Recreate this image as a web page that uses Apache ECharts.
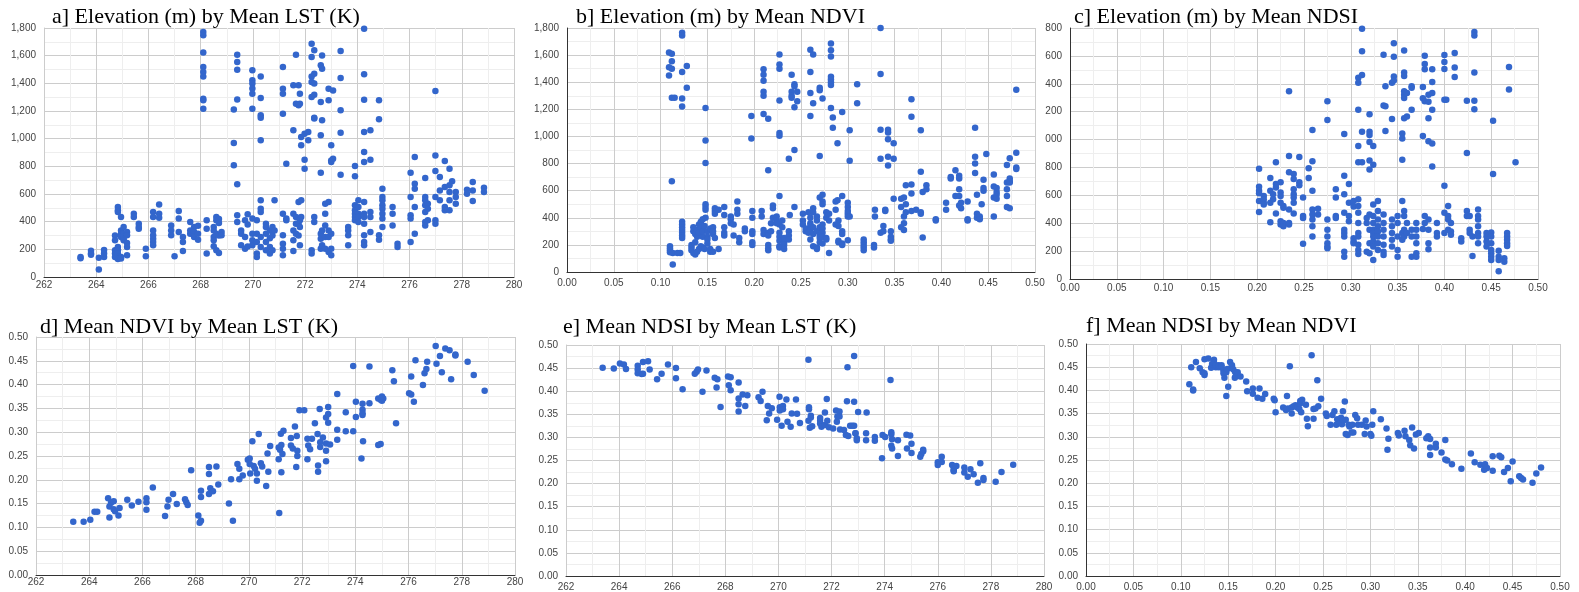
<!DOCTYPE html>
<html>
<head>
<meta charset="UTF-8">
<title>Scatter panels</title>
<script src="https://cdn.jsdelivr.net/npm/echarts@6/dist/echarts.min.js"></script>
<style>
  html, body { margin: 0; padding: 0; background: #fff; }
  #main { width: 1579px; height: 592px; }
</style>
</head>
<body>
<div id="main"></div>
<script>
// panel titles
var titles = [
  'a] Elevation (m) by Mean LST (K)',
  'b] Elevation (m) by Mean NDVI',
  'c] Elevation (m) by Mean NDSI',
  'd] Mean NDVI by Mean LST (K)',
  'e] Mean NDSI by Mean LST (K)',
  'f] Mean NDSI by Mean NDVI'
];

// data grouped as [x, [y, y, ...]]
var elevByLst = [
  [263.4,[145,135]], [263.8,[190,170,160]], [264.1,[55,140]], [264.3,[145,170,195]],
  [264.72,[300,265,193,169,145]], [264.83,[506,482,470,217,193,169,145,130]],
  [264.95,[434,337,313,289,145,133]], [265.05,[361,313,277,265]], [265.18,[325,301,246,217,157]],
  [265.44,[458,434]], [265.63,[385,361,349]], [265.9,[205,150]],
  [266.18,[470,434,337,301,277,253,229]], [266.41,[525,458,429]], [266.87,[373,337,301]],
  [267.0,[150]], [267.16,[477,422,325]], [267.32,[289,253,188]], [267.6,[398,337,313]],
  [267.75,[361,325,290]], [267.9,[370,313,270]],
  [268.1,[1771,1747,1622,1518,1482,1450,1289,1277,1217]], [268.23,[410,349,169]],
  [268.5,[361,337,289,265,222]], [268.6,[434,410,313,193]], [268.7,[420,390,300,173]],
  [268.8,[325,301]], [269.27,[1210,969,807]], [269.4,[1607,1554,1499,1284,670,446,398]],
  [269.55,[337,313,229]], [269.7,[410,290,205]], [269.8,[453,380,220]],
  [269.98,[1494,1422,1398,1362,1325,1217,422,313,265,229]], [270.15,[410,313,253,169,145]],
  [270.3,[1450,1294,1169,1152,988,554,494,470,289,217]], [270.5,[385,361,313,253,193]],
  [270.65,[337,280,217,169]], [270.75,[361,300,193]], [270.83,[554,337]],
  [271.15,[1518,1361,1325,1180,458,301,241,205,157]], [271.28,[819,422,410]],
  [271.55,[1386,1060,458,337,265,188]], [271.65,[1607,1253,434,385,313]],
  [271.75,[1386,1241,542,385,300]], [271.8,[1325,1253,410,361,229]], [271.85,[1012,952,554,434]],
  [271.98,[1036,848,783]], [272.12,[1048,988]], [272.25,[1687,1590,1450,1410,1301,193,169]],
  [272.35,[1639,1470,1398,1318,1152,1145,434,398]], [272.6,[1530,1265,1024,754,313,277,205]],
  [272.65,[1602,1506,1133,337,229]], [272.77,[530,458,373,289,205]],
  [272.9,[1361,1277,542,337,289,181]], [273.0,[952,843,831,313,205,157]], [273.07,[1349,855]],
  [273.36,[1634,1439,1205,1043,740]], [273.65,[361,337,301,229]],
  [273.91,[802,728,518,482,458,434,410]], [274.04,[554,506,458,434,398]],
  [274.26,[1795,1465,1282,1048,904,831,542,458,434,385,301,253,229]],
  [274.5,[1060,848,470,434,325]], [274.83,[1277,1140,301,270]],
  [274.96,[638,578,554,518,494,458,422,361]], [275.35,[506,458,373]], [275.54,[241,217]],
  [276.04,[754,578,446,422,253]], [276.2,[867,675,638,506,313]],
  [276.6,[716,578,554,518,470,398,373]], [276.7,[530,494,410]],
  [276.99,[1345,879,766,578,410,385]], [277.16,[723,626,554]], [277.35,[839,650,506,482]],
  [277.53,[783,663,614,554,482]], [277.63,[692]], [277.77,[614,578,530]], [278.2,[631,602]],
  [278.42,[687,626,549]], [278.85,[646,614]]
];

var elevByNdvi = [
  [0.109,[1620,1510,1450]], [0.112,[1610,1555,1500,1285,670]], [0.115,[1285]],
  [0.110,[190,175,160,145]], [0.113,[140,55]], [0.118,[140]], [0.121,[140]],
  [0.123,[1765,1745,1475,1280,1220,370,350,330,310,290,270,250]], [0.128,[1520,1360]],
  [0.133,[200,180,160]], [0.135,[140,300,330]], [0.137,[130,280,220]], [0.139,[150,260,310]],
  [0.141,[170,290,350]], [0.143,[370,190,330]], [0.145,[390,180,260,300]], [0.147,[170,340]],
  [0.148,[1210,970,805,500,480,460,400]], [0.150,[300,260,240,210]], [0.153,[150,170,320]],
  [0.156,[150,280,330,300]], [0.158,[470,450,430,250]], [0.162,[170,460]],
  [0.168,[480,420,330,290,270]], [0.175,[410,390,360]], [0.178,[350,270]], [0.182,[520,460,430]],
  [0.184,[250,220]], [0.190,[320,300]], [0.197,[1150,985]], [0.198,[450,400,300,280,220,200]],
  [0.208,[450,410]], [0.210,[1495,1455,1410,1330,1300,1165,310,280]],
  [0.215,[1130,750,200,175,160,290,270]], [0.218,[360,300]], [0.220,[490,470,400]],
  [0.224,[410,380,360]], [0.227,[1605,1530,1500,1265,1025,1005,560,350,290,260,230,190,180]],
  [0.230,[380,330]], [0.232,[170,200,220,250]], [0.237,[835,300,270,240]], [0.238,[420]],
  [0.240,[1455,1330,1300,1285]], [0.243,[1385,1370,1215,900,480]], [0.246,[1330,1260]],
  [0.252,[430,380,350]], [0.255,[320,300]], [0.258,[440,290]],
  [0.260,[1640,1475,1320,1150,400,360,340,310,240]], [0.263,[1605,1245,470,440,330,280,190]],
  [0.267,[410,380,300,180,170]], [0.270,[1340,1360,855,550,330,270,250,220]],
  [0.273,[1280,570,520,500,350,320,290,260,210]], [0.277,[440,400,250,240]], [0.280,[430,380,140]],
  [0.282,[1685,1635,1590,1440,1420,1400,1380,1210]], [0.284,[1140,1065]], [0.287,[520,460,350]],
  [0.289,[950,530]], [0.290,[380,340,230,220]], [0.294,[1180,560,300,280,210,200]],
  [0.300,[510,480,450,430,410,235]], [0.302,[1045,820,410]], [0.310,[1385,1245]],
  [0.317,[240,220,200,180,160]], [0.328,[200,180]], [0.329,[460,410]],
  [0.335,[1800,1460,1050,835,290]], [0.338,[340,300]], [0.340,[460,450]],
  [0.343,[1050,1030,980,850,785]], [0.346,[300,260,240,230]], [0.349,[950,835,540]],
  [0.357,[540,480,330]], [0.360,[550,410,360,310]], [0.362,[640,500,440]],
  [0.368,[1275,1145,645,580,450]], [0.373,[460]], [0.378,[1045,740,440,430]], [0.380,[590,255]],
  [0.384,[640,610]], [0.394,[390,380]], [0.405,[510,460]], [0.410,[700,690]], [0.415,[750,560]],
  [0.419,[710,690,610,560,490]], [0.421,[510,470]], [0.428,[520,390,380]],
  [0.436,[1065,850,800,730]], [0.438,[570,430,400]], [0.441,[410,390]], [0.443,[500]],
  [0.445,[680,620,600]], [0.448,[870]], [0.456,[720,630,550,410]], [0.459,[620,590,570,540]],
  [0.470,[790,660,610,560,480]], [0.473,[840,690,670,660,470]], [0.480,[1345,880,770,760]]
];

var elevByNdsi = [
  [0.202,[790,661,632,615,560,480]], [0.207,[596,572,547,535]], [0.214,[724,632,547,407]],
  [0.217,[608,572]], [0.220,[838,681,656,470]], [0.225,[693,620,596,547,414,390]],
  [0.228,[523,511,402,378]], [0.234,[1347,882,765,499,402,390]],
  [0.239,[753,717,644,608,584,547,470]], [0.245,[875,693,673]], [0.249,[584,451,438,252]],
  [0.255,[795,724]], [0.259,[1068,845,632,499,463,426,378,305]], [0.265,[504,463]],
  [0.275,[1274,1141,426,354,305,257,233,220]], [0.284,[644,584,451,438]],
  [0.293,[1039,741,608,475,354,329,305,196,160]], [0.298,[681,547,451,414]],
  [0.303,[293,269,257,560,520]], [0.308,[1444,1407,1214,954,838,572,523,475,402,329,305,245,208,179]],
  [0.312,[1795,1633,1463,1056,838]], [0.317,[438,402,196]],
  [0.320,[1182,1056,1032,983,850,785,463,354,257,184]],
  [0.324,[954,819,535,451,402,354,329,305,269,233,136]],
  [0.329,[560,487,426,378,341,305,257,208]],
  [0.335,[1608,1245,463,402,354,305,245,196,172]], [0.337,[1383,1238,1061]],
  [0.344,[1407,1148,426,378,329,281,233]], [0.346,[1691,1594,1453,1424]],
  [0.350,[451,402,305,208,160]], [0.355,[1044,1008,855,560,329,281]],
  [0.357,[1638,1480,1456,1347,1322,1298,1153,487,451,354,305]], [0.360,[1334,1165,402,329]],
  [0.365,[1383,1371,1214,354,305,160]], [0.370,[402,354,305,257,184,160]],
  [0.377,[1376,1296,1025,359]], [0.379,[1601,1541,1504,1274,451,402]],
  [0.383,[1322,1272,1153,988,426,354,257,213]], [0.387,[1504,1412,1334,1214,971,807]],
  [0.392,[402,329,305]], [0.400,[1606,1557,1506,1286,669,475,329]], [0.402,[1286]],
  [0.404,[523,451,426,354]], [0.407,[402,341,317]], [0.411,[1621,1516,1449]],
  [0.418,[293,269]], [0.424,[1279,904,487,451]], [0.427,[451,354,329]], [0.430,[305,165]],
  [0.432,[1771,1747,1480,1279,1218]], [0.436,[499,451,426,378,329,305,257]],
  [0.445,[329,305,269,233]], [0.450,[334,305,257,208,184,160,136]], [0.452,[1134,753]],
  [0.458,[203,160,136,56]], [0.464,[148,123]], [0.467,[329,305,281,257,237]],
  [0.469,[1521,1359]], [0.476,[838]]
];

var ndviByLst = [
  [263.40,[0.112]], [263.79,[0.112]], [264.04,[0.116]], [264.2,[0.133]], [264.3,[0.133]],
  [264.71,[0.161]], [264.76,[0.144,0.121]], [264.82,[0.152]], [264.92,[0.155,0.138]], [264.97,[0.134]],
  [265.1,[0.125]], [265.14,[0.141]], [265.43,[0.158]], [265.6,[0.146]], [265.85,[0.154]],
  [266.15,[0.161,0.153,0.137]], [266.39,[0.184]], [266.85,[0.124]], [266.94,[0.144]], [266.98,[0.158]],
  [267.15,[0.170]], [267.29,[0.149]], [267.6,[0.159]], [267.65,[0.153]], [267.7,[0.147]],
  [267.83,[0.220]], [268.1,[0.125]], [268.15,[0.110]], [268.2,[0.114,0.164,0.177]],
  [268.5,[0.227,0.212,0.170]], [268.55,[0.182]], [268.65,[0.176]], [268.78,[0.228]], [268.85,[0.190]],
  [269.25,[0.150]], [269.33,[0.201]], [269.4,[0.114]], [269.57,[0.233]], [269.64,[0.223,0.201]],
  [269.77,[0.209]], [269.96,[0.242]], [270.03,[0.245,0.233]], [270.05,[0.213]], [270.13,[0.281]],
  [270.18,[0.229]], [270.23,[0.223]], [270.3,[0.213,0.198]], [270.37,[0.296]], [270.45,[0.235]],
  [270.5,[0.228]], [270.65,[0.187]], [270.7,[0.255]], [270.73,[0.217]], [270.8,[0.271]],
  [271.12,[0.243,0.268]], [271.14,[0.130]], [271.17,[0.263]], [271.2,[0.297]], [271.22,[0.273,0.216]],
  [271.26,[0.254]], [271.3,[0.303]], [271.58,[0.288,0.272]], [271.65,[0.266]], [271.73,[0.312]],
  [271.78,[0.227]], [271.8,[0.292]], [271.82,[0.261,0.250]], [271.9,[0.346]], [272.08,[0.346]],
  [272.2,[0.243,0.286]], [272.23,[0.272]], [272.3,[0.264]], [272.37,[0.286]], [272.48,[0.319]],
  [272.58,[0.296]], [272.6,[0.230,0.217]], [272.66,[0.349]], [272.68,[0.279,0.269]], [272.78,[0.289]],
  [272.9,[0.331,0.276,0.261,0.239]], [272.98,[0.353,0.338,0.320]], [273.05,[0.274]],
  [273.32,[0.380,0.305,0.284]], [273.64,[0.342,0.302]], [273.92,[0.439,0.302]],
  [274.02,[0.364,0.332]], [274.23,[0.245]], [274.27,[0.360,0.347,0.340,0.336]], [274.29,[0.281]],
  [274.53,[0.438,0.361]], [274.86,[0.371,0.273]], [274.95,[0.368,0.275]], [275.0,[0.375,0.366]],
  [275.05,[0.371]], [275.39,[0.430]], [275.45,[0.407]], [275.53,[0.319]], [276.02,[0.382]],
  [276.1,[0.379,0.417]], [276.2,[0.364]], [276.26,[0.451]], [276.54,[0.399]], [276.6,[0.424]],
  [276.67,[0.433]], [276.7,[0.448]], [277.02,[0.481]], [277.05,[0.444]], [277.18,[0.460]],
  [277.25,[0.426]], [277.38,[0.476]], [277.54,[0.472]], [277.6,[0.411]], [277.76,[0.463,0.461]],
  [278.22,[0.448]], [278.45,[0.420]], [278.86,[0.387]]
];

var ndsiByLst = [
  [263.38,[0.451]], [263.8,[0.449]], [264.03,[0.460]], [264.18,[0.458]], [264.26,[0.448]],
  [264.7,[0.439,0.455,0.447]], [264.85,[0.437]], [264.9,[0.463,0.438]], [265.09,[0.465]],
  [265.15,[0.447]], [265.43,[0.426]], [265.6,[0.438]], [265.84,[0.458]], [266.14,[0.450,0.428]],
  [266.39,[0.404]], [266.85,[0.438]], [266.92,[0.442]], [266.97,[0.447]], [267.14,[0.399]],
  [267.29,[0.445]], [267.6,[0.429]], [267.67,[0.408]], [267.7,[0.426]], [267.82,[0.366]],
  [268.1,[0.432]], [268.13,[0.413]], [268.2,[0.430,0.402]], [268.5,[0.419,0.384,0.372,0.356]],
  [268.65,[0.393]], [268.75,[0.368]], [268.83,[0.391]], [269.25,[0.387]], [269.33,[0.379]],
  [269.4,[0.399]], [269.56,[0.337]], [269.6,[0.368]], [269.65,[0.352]], [269.75,[0.363]],
  [269.95,[0.338]], [270.04,[0.388]], [270.05,[0.365,0.358]], [270.12,[0.325]],
  [270.17,[0.368,0.361]], [270.3,[0.382]], [270.34,[0.334]], [270.46,[0.323]], [270.5,[0.352]],
  [270.66,[0.382]], [270.7,[0.351]], [270.81,[0.331]], [271.13,[0.468,0.336]],
  [271.15,[0.361,0.365]], [271.18,[0.321]], [271.22,[0.347,0.343]], [271.27,[0.324]],
  [271.57,[0.330,0.336,0.342]], [271.62,[0.323]], [271.75,[0.354,0.327]], [271.82,[0.383]],
  [271.84,[0.336]], [271.9,[0.322]], [272.06,[0.319]], [272.17,[0.358]], [272.2,[0.334]],
  [272.22,[0.345]], [272.3,[0.356,0.345]], [272.32,[0.317]], [272.47,[0.316]], [272.54,[0.305]],
  [272.58,[0.378]], [272.6,[0.452]], [272.63,[0.303]], [272.7,[0.325]], [272.78,[0.325]],
  [272.85,[0.325,0.377,0.476]], [272.9,[0.309,0.309]], [272.95,[0.298,0.294]], [273.0,[0.355]],
  [273.3,[0.309,0.294]], [273.32,[0.354]], [273.63,[0.301,0.293]], [273.9,[0.255]],
  [273.92,[0.305]], [274.02,[0.301]], [274.22,[0.424]], [274.25,[0.311,0.307,0.282]],
  [274.28,[0.276,0.296]], [274.5,[0.294,0.260]], [274.82,[0.306]], [274.84,[0.276]],
  [274.96,[0.304]], [275.01,[0.286,0.266]], [275.34,[0.258]], [275.38,[0.264]],
  [275.45,[0.270,0.273]], [276.0,[0.246,0.240]], [276.15,[0.258,0.247]], [276.54,[0.240]],
  [276.6,[0.232,0.229,0.227]], [276.7,[0.238]], [277.0,[0.235,0.224]], [277.13,[0.215]],
  [277.23,[0.231]], [277.35,[0.220]], [277.51,[0.202]], [277.6,[0.244]], [277.72,[0.212,0.208]],
  [278.18,[0.204]], [278.4,[0.225]], [278.84,[0.241]]
];

var ndsiByNdvi = [
  [0.109,[0.413]], [0.111,[0.450]], [0.113,[0.402,0.400]], [0.116,[0.461]], [0.120,[0.448]],
  [0.123,[0.439]], [0.125,[0.433,0.437,0.467]], [0.129,[0.469]], [0.132,[0.449]], [0.133,[0.457]],
  [0.135,[0.466,0.460]], [0.137,[0.450,0.454]], [0.140,[0.450,0.454]], [0.143,[0.450,0.454]],
  [0.145,[0.443,0.437]], [0.146,[0.427]], [0.148,[0.388,0.439]], [0.149,[0.446]], [0.150,[0.408]],
  [0.152,[0.461]], [0.154,[0.454]], [0.155,[0.446]], [0.157,[0.441,0.427]], [0.158,[0.431]],
  [0.160,[0.439]], [0.163,[0.430]], [0.169,[0.419]], [0.170,[0.398]], [0.176,[0.404,0.393]],
  [0.181,[0.384]], [0.183,[0.404]], [0.186,[0.382]], [0.189,[0.392]], [0.198,[0.382]],
  [0.199,[0.379]], [0.200,[0.353]], [0.208,[0.363]], [0.211,[0.358]], [0.212,[0.388]],
  [0.213,[0.361]], [0.215,[0.452]], [0.217,[0.350,0.363]], [0.219,[0.366]], [0.221,[0.368]],
  [0.223,[0.363]], [0.225,[0.360]], [0.226,[0.372,0.377]], [0.227,[0.353]], [0.228,[0.380]],
  [0.232,[0.369]], [0.233,[0.339]], [0.234,[0.323]], [0.238,[0.476]], [0.240,[0.360,0.339]],
  [0.242,[0.361]], [0.244,[0.422]], [0.245,[0.366]], [0.248,[0.382]], [0.253,[0.350]],
  [0.254,[0.345]], [0.258,[0.326]], [0.260,[0.347]], [0.262,[0.355]], [0.264,[0.326]],
  [0.265,[0.338]], [0.267,[0.335]], [0.268,[0.330]], [0.269,[0.341]], [0.270,[0.327]],
  [0.271,[0.336,0.355]], [0.273,[0.376]], [0.274,[0.337,0.306]], [0.276,[0.304]], [0.277,[0.326]],
  [0.278,[0.322]], [0.280,[0.309]], [0.281,[0.326]], [0.282,[0.309]], [0.284,[0.347]],
  [0.286,[0.340]], [0.287,[0.326]], [0.291,[0.326]], [0.294,[0.306]], [0.295,[0.335]],
  [0.296,[0.322]], [0.300,[0.306]], [0.301,[0.302]], [0.302,[0.326]], [0.303,[0.355]],
  [0.311,[0.338]], [0.317,[0.318]], [0.318,[0.272]], [0.319,[0.296]], [0.329,[0.308]],
  [0.330,[0.303]], [0.336,[0.313]], [0.337,[0.301]], [0.341,[0.293]], [0.342,[0.282]],
  [0.344,[0.320]], [0.346,[0.275]], [0.348,[0.305]], [0.351,[0.308]], [0.359,[0.297]],
  [0.361,[0.301]], [0.363,[0.295,0.277,0.261]], [0.369,[0.285,0.277]], [0.375,[0.266]],
  [0.379,[0.293,0.251]], [0.381,[0.249]], [0.386,[0.241]], [0.396,[0.231]], [0.406,[0.264]],
  [0.410,[0.245]], [0.416,[0.240]], [0.420,[0.229]], [0.421,[0.241]], [0.423,[0.233]],
  [0.429,[0.227,0.258]], [0.436,[0.259]], [0.438,[0.256]], [0.441,[0.224]], [0.445,[0.233]],
  [0.448,[0.204]], [0.450,[0.247]], [0.457,[0.215]], [0.459,[0.211]], [0.461,[0.208]],
  [0.471,[0.201]], [0.475,[0.221]], [0.480,[0.234]]
];

function expand(groups) {
  var out = [];
  groups.forEach(function (g) {
    g[1].forEach(function (y) { out.push([g[0], y]); });
  });
  return out;
}

var panels = [
  { data: elevByLst,  grid: { left: 44,   top: 28,  width: 470, height: 249 }, x: [262, 280, 2], y: [0, 1800, 200], title: [52, 6], gap: 3 },
  { data: elevByNdvi, grid: { left: 567,  top: 28,  width: 468, height: 244 }, x: [0, 0.5, 0.05], y: [0, 1800, 200], title: [576, 6], gap: 6 },
  { data: elevByNdsi, grid: { left: 1070, top: 28,  width: 468, height: 251 }, x: [0, 0.5, 0.05], y: [0, 1800, 200], title: [1074, 6], gap: 4 },
  { data: ndviByLst,  grid: { left: 36,   top: 337, width: 479, height: 238 }, x: [262, 280, 2], y: [0, 0.5, 0.05], title: [40, 316], gap: 2 },
  { data: ndsiByLst,  grid: { left: 566,  top: 345, width: 478, height: 235 }, x: [262, 280, 2], y: [0, 0.5, 0.05], title: [563, 316], gap: 6 },
  { data: ndsiByNdvi, grid: { left: 1086, top: 344, width: 474, height: 238 }, x: [0, 0.5, 0.05], y: [0, 0.5, 0.05], title: [1086, 315], gap: 6 }
];

function fmt(v, step, clip) {
  if (step < 1) return v.toFixed(2);
  if (clip && v >= 1000) return String(v).slice(-3);
  return v.toLocaleString('en-US');
}

var labelStyle = { color: '#444', fontSize: 10, fontFamily: 'Arial, Liberation Sans, sans-serif' };

var option = {
  animation: false,
  backgroundColor: '#fff',
  title: [], grid: [], xAxis: [], yAxis: [], series: []
};

panels.forEach(function (p, i) {
  option.title.push({
    text: titles[i], left: p.title[0], top: p.title[1], padding: 0,
    textStyle: { fontFamily: 'Liberation Serif, Times New Roman, serif', fontWeight: 'normal', fontSize: 22, color: '#000' }
  });
  option.grid.push(p.grid);
  var xStep = p.x[2], yStep = p.y[2];
  option.xAxis.push({
    type: 'value', gridIndex: i, min: p.x[0], max: p.x[1], interval: xStep,
    axisLine: { show: true, onZero: false, lineStyle: { color: '#333', width: 1 } },
    axisTick: { show: false },
    axisLabel: Object.assign({ margin: p.gap, formatter: function (v) { return fmt(v, xStep); } }, labelStyle),
    splitLine: { show: true, lineStyle: { color: '#ccc' } },
    minorTick: { show: false, splitNumber: 2 },
    minorSplitLine: { show: true, lineStyle: { color: '#eee' } }
  });
  var dark = p.x[0] === 0;
  option.yAxis.push({
    type: 'value', gridIndex: i, min: p.y[0], max: p.y[1], interval: yStep,
    axisLine: { show: true, onZero: false, lineStyle: { color: dark ? '#333' : '#ccc', width: 1 } },
    axisTick: { show: false },
    axisLabel: Object.assign({ margin: 8, formatter: function (v) { return fmt(v, yStep, i === 2); } }, labelStyle),
    splitLine: { show: true, lineStyle: { color: '#ccc' } },
    minorTick: { show: false, splitNumber: 2 },
    minorSplitLine: { show: true, lineStyle: { color: '#eee' } }
  });
  option.series.push({
    type: 'scatter', xAxisIndex: i, yAxisIndex: i,
    data: expand(p.data), symbolSize: 6.5, silent: true,
    itemStyle: { color: '#3366cc', opacity: 1 }
  });
});

var myChart = echarts.init(document.getElementById('main'));
myChart.setOption(option);
</script>
</body>
</html>
